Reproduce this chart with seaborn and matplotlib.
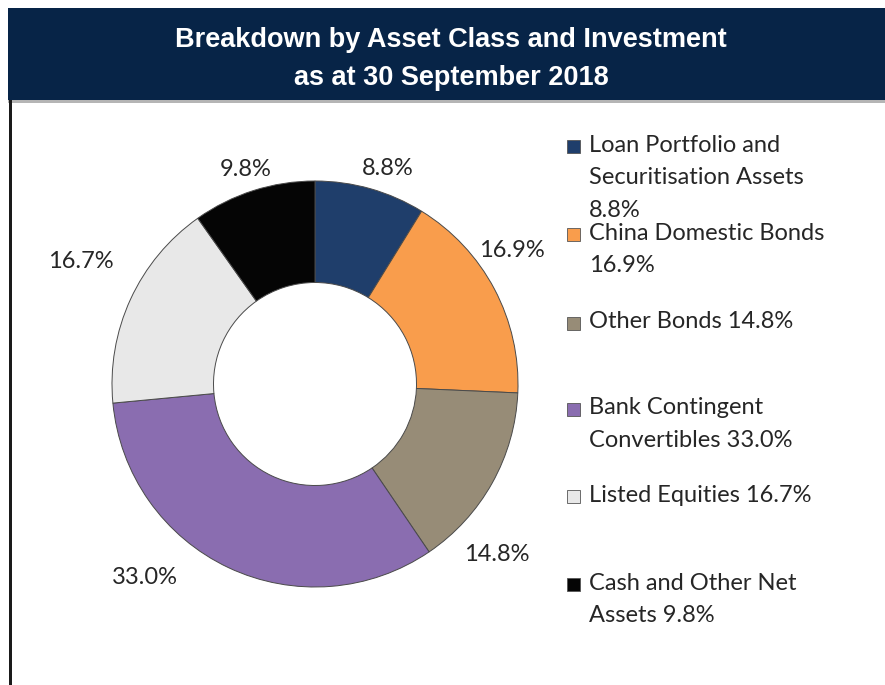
import matplotlib
matplotlib.use("Agg")
import matplotlib.pyplot as plt
import seaborn as sns
from matplotlib.patches import Rectangle
import numpy as np

categories = ["Loan Portfolio and\nSecuritisation Assets\n8.8%",
              "China Domestic Bonds\n16.9%",
              "Other Bonds 14.8%",
              "Bank Contingent\nConvertibles 33.0%",
              "Listed Equities 16.7%",
              "Cash and Other Net\nAssets 9.8%"]
values = [8.8, 16.9, 14.8, 33.0, 16.7, 9.8]
slice_labels = ["8.8%", "16.9%", "14.8%", "33.0%", "16.7%", "9.8%"]
colors = ["#1F3E6B", "#F99D4C", "#978C77", "#8A6DB0", "#E8E8E8", "#050505"]
title_lines = "Breakdown by Asset Class and Investment\nas at 30 September 2018"

sns.set_theme(style="white")
plt.rcParams['font.family'] = ['Lato', 'DejaVu Sans']

W, H = 885, 685
fig = plt.figure(figsize=(W / 100, H / 100), dpi=100)
fig.patch.set_facecolor("white")

# Banner
fig.patches.append(Rectangle((8 / W, 1 - 100 / H), 1, 92 / H, transform=fig.transFigure,
                             facecolor="#072447", edgecolor="none", zorder=0))
fig.patches.append(Rectangle((8 / W, 1 - 103 / H), 1, 3 / H, transform=fig.transFigure,
                             facecolor="#b5b5b5", edgecolor="none", zorder=0))
# left border line
fig.patches.append(Rectangle((9 / W, 0), 3 / W, 1 - 100 / H, transform=fig.transFigure,
                             facecolor="#1a1a1a", edgecolor="none", zorder=0))
fig.text(451 / W, 1 - 59 / H, title_lines, ha="center", va="center", color="white",
         fontsize=19.5, fontweight="bold", linespacing=1.6,
         family=['Liberation Sans Narrow', 'Liberation Sans', 'DejaVu Sans'])

cx, cy, r = 315, 384, 203
ax = fig.add_axes([(cx - r) / W, (H - cy - r) / H, 2 * r / W, 2 * r / H])
wedges, texts = ax.pie(values, colors=colors, startangle=90, counterclock=False,
                       labels=slice_labels, labeldistance=1.17,
                       wedgeprops=dict(width=0.5, edgecolor="#4a4a4a", linewidth=0.7),
                       textprops=dict(fontsize=17, color="#262626"))
ax.set_xlim(-1, 1)
ax.set_ylim(-1, 1)
ax.set_aspect("equal")
ax.axis("off")

# label placement (Excel "outside end" style): radial distance and angle nudge per label
label_dist = [1.12, 1.17, 1.23, 1.27, 1.30, 1.11]
label_nudge_deg = [-2.9, 6.3, -14.0, -16.2, -2.9, 0.4]
for w, t, d, n in zip(wedges, texts, label_dist, label_nudge_deg):
    mid = np.deg2rad((w.theta1 + w.theta2) / 2 + n)
    t.set_position((d * np.cos(mid), d * np.sin(mid)))
    t.set_ha("center")
    t.set_va("center")
    t.set_clip_on(False)

# Legend (manual layout, like Excel's spaced legend)
legend_first_line = [145, 233, 322, 408, 495, 583]
line_step = 32.5
for y, lab, col in zip(legend_first_line, categories, colors):
    fig.patches.append(Rectangle((567 / W, 1 - (y + 8) / H), 13 / W, 13 / H,
                                 transform=fig.transFigure, facecolor=col,
                                 edgecolor="#555555", linewidth=0.6))
    for i, line in enumerate(lab.split("\n")):
        fig.text(589 / W, 1 - (y + i * line_step) / H, line, ha="left", va="center",
                 fontsize=17, color="#262626")

fig.savefig("out.png", dpi=100, facecolor="white")
